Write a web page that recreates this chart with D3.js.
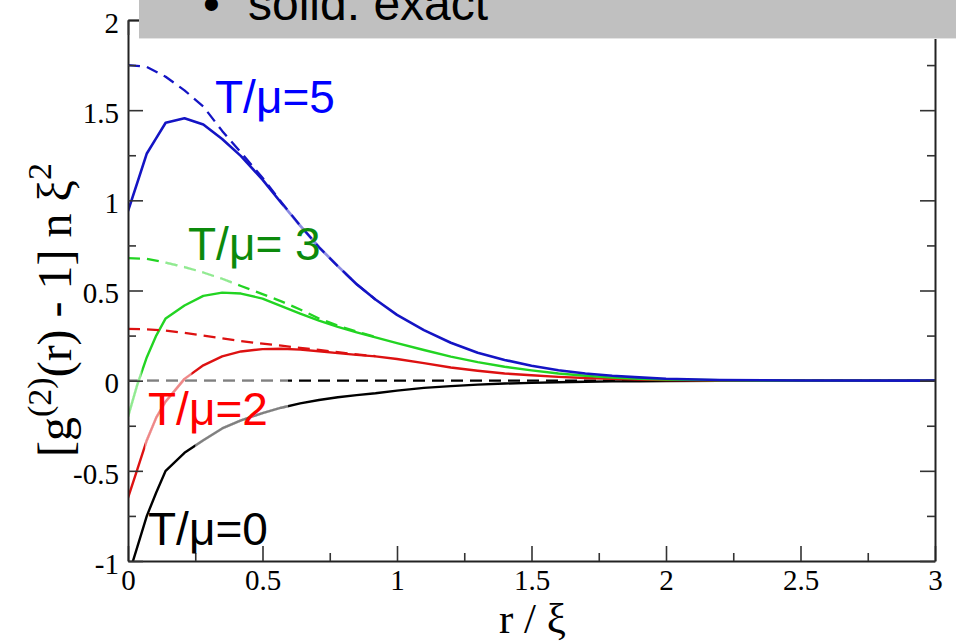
<!DOCTYPE html>
<html>
<head>
<meta charset="utf-8">
<script src="https://cdn.jsdelivr.net/npm/d3@7"></script>
<style>
  html, body { margin: 0; padding: 0; background: #fff; }
  svg { display: block; }
</style>
</head>
<body>
<svg id="chart" width="956" height="641"></svg>
<script>
// r / ξ sample grid for the exact (solid) curves
const rExact = [0, 0.035, 0.07, 0.105, 0.14, 0.21, 0.28, 0.35, 0.42, 0.5, 0.57, 0.64, 0.71, 0.78,
  0.85, 0.92, 1.0, 1.1, 1.2, 1.3, 1.4, 1.5, 1.6, 1.7, 1.8, 1.9, 2.0, 2.2, 2.5, 3.0];

const exactT5 = [0.94, 1.10, 1.26, 1.345, 1.43, 1.455, 1.42, 1.34, 1.245, 1.115, 0.985, 0.86, 0.74, 0.635,
  0.535, 0.45, 0.365, 0.28, 0.21, 0.155, 0.115, 0.083, 0.058, 0.04, 0.027, 0.018, 0.011, 0.004, 0.001, 0];
const exactT3 = [-0.2, -0.02, 0.13, 0.25, 0.345, 0.417, 0.47, 0.488, 0.483, 0.455, 0.413, 0.372, 0.333, 0.298,
  0.268, 0.24, 0.208, 0.17, 0.133, 0.103, 0.077, 0.057, 0.04, 0.027, 0.017, 0.01, 0.006, 0.002, 0, 0];
const exactT2 = [-0.65, -0.49, -0.33, -0.205, -0.115, 0.01, 0.085, 0.135, 0.162, 0.175, 0.177, 0.172, 0.163, 0.153,
  0.143, 0.135, 0.12, 0.097, 0.073, 0.055, 0.04, 0.03, 0.021, 0.015, 0.01, 0.006, 0.004, 0.001, 0, 0];
const exactT0 = [-1.09, -0.92, -0.75, -0.62, -0.5, -0.4, -0.33, -0.265, -0.22, -0.18, -0.15, -0.126, -0.107, -0.092,
  -0.08, -0.07, -0.055, -0.04, -0.03, -0.022, -0.016, -0.012, -0.009, -0.006, -0.004, -0.003, -0.002, -0.001, 0, 0];

// r / ξ sample grid for the approximate (dashed) curves
const rApprox = [0, 0.07, 0.14, 0.21, 0.28, 0.35, 0.42, 0.5, 0.57, 0.64, 0.71, 0.78, 0.85, 0.92];
const approxT5 = [1.75, 1.74, 1.685, 1.61, 1.52, 1.385, 1.265, 1.125, 0.99, 0.86, 0.74, 0.635, 0.535, 0.45];
const approxT3 = [0.68, 0.675, 0.655, 0.63, 0.6, 0.565, 0.525, 0.48, 0.44, 0.395, 0.345, 0.305, 0.272, 0.242];
const approxT2 = [0.287, 0.285, 0.278, 0.265, 0.25, 0.235, 0.22, 0.205, 0.194, 0.182, 0.17, 0.158, 0.146, 0.136];
const rZero = [0, 3];
const approxT0 = [0, 0];

const xTicks = [0, 0.5, 1, 1.5, 2, 2.5, 3];
const xTickLabels = ["0", "0.5", "1", "1.5", "2", "2.5", "3"];
const yTicks = [-1, -0.5, 0, 0.5, 1, 1.5, 2];
const yTickLabels = ["-1", "-0.5", "0", "0.5", "1", "1.5", "2"];
const minorX = [0.25, 0.75, 1.25, 1.75, 2.25, 2.75];
const minorY = [-0.75, -0.25, 0.25, 0.75, 1.25, 1.75];

const curveLabels = ["T/\u03bc=5", "T/\u03bc= 3", "T/\u03bc=2", "T/\u03bc=0"];
const headerText = "solid: exact";

// ---- drawing ----
const svg = d3.select("#chart");
const m = { left: 128, right: 935, top: 20, bottom: 561 };
const x = d3.scaleLinear().domain([0, 3]).range([m.left, m.right]);
const y = d3.scaleLinear().domain([-1, 2]).range([m.bottom, m.top]);

const serif = "'Liberation Serif','Times New Roman',Times,serif";
const sans = "'Liberation Sans',Arial,Helvetica,sans-serif";

svg.append("defs").append("clipPath").attr("id", "plotClip")
  .append("rect").attr("x", m.left).attr("y", m.top)
  .attr("width", m.right - m.left).attr("height", m.bottom - m.top);

const line = d3.line().x(d => x(d[0])).y(d => y(d[1]));
const zip = (rs, vs) => rs.map((r, i) => [r, vs[i]]);

const plot = svg.append("g").attr("clip-path", "url(#plotClip)");

// light patches along some curves
function fadeClip(id, r0, r1) {
  svg.select("defs").append("clipPath").attr("id", id)
    .append("rect").attr("x", x(r0)).attr("y", m.top)
    .attr("width", x(r1) - x(r0)).attr("height", m.bottom - m.top);
}

const series = [
  { rs: rZero, vs: approxT0, color: "#000000", w: 2.2, dash: "12,7", fade: [0, 0.595] },
  { rs: rExact, vs: exactT0, color: "#000000", w: 2.4, dash: null, fade: [0.25, 0.595] },
  { rs: rExact, vs: exactT2, color: "#dd1111", w: 2.4, dash: null, fade: [0.063, 0.236] },
  { rs: rExact, vs: exactT3, color: "#22d422", w: 2.4, dash: null, fade: [0, 0.05] },
  { rs: rExact, vs: exactT5, color: "#1414c4", w: 2.6, dash: null, fade: [0.575, 0.805] },
  { rs: rApprox, vs: approxT2, color: "#dd1111", w: 2.3, dash: "12,7", fade: null },
  { rs: rApprox, vs: approxT3, color: "#22d422", w: 2.3, dash: "12,7", fade: [0.137, 0.40] },
  { rs: rApprox, vs: approxT5, color: "#1414c4", w: 2.3, dash: "12,7", fade: null }
];

series.forEach((s, i) => {
  const d = zip(s.rs, s.vs);
  const p = plot.append("path").datum(d)
    .attr("d", line).attr("fill", "none")
    .attr("stroke", s.color).attr("stroke-width", s.w)
    .attr("stroke-linejoin", "round");
  if (s.dash) p.attr("stroke-dasharray", s.dash);
  if (s.fade) {
    const id = "fade" + i;
    fadeClip(id, s.fade[0], s.fade[1]);
    const f = plot.append("g").attr("clip-path", "url(#" + id + ")")
      .append("path").datum(d)
      .attr("d", line).attr("fill", "none")
      .attr("stroke", "#ffffff").attr("stroke-opacity", 0.5)
      .attr("stroke-width", s.w + 0.6);
    if (s.dash) f.attr("stroke-dasharray", s.dash);
  }
});

// ---- axes (ticks point inward) ----
function styleAxis(g) {
  g.select(".domain").attr("stroke", "#222").attr("stroke-width", 2);
  g.selectAll(".tick line").attr("stroke", "#333").attr("stroke-width", 1.6);
  g.selectAll("text").attr("font-family", serif).attr("font-size", 29).attr("fill", "#000");
}

const xAxis = svg.append("g").attr("transform", `translate(0,${m.bottom})`)
  .call(d3.axisBottom(x).tickValues(xTicks).tickFormat((d, i) => xTickLabels[i])
    .tickSizeInner(-15).tickSizeOuter(0).tickPadding(8));
styleAxis(xAxis);

const yAxis = svg.append("g").attr("transform", `translate(${m.left},0)`)
  .call(d3.axisLeft(y).tickValues(yTicks).tickFormat((d, i) => yTickLabels[i])
    .tickSizeInner(-15).tickSizeOuter(0).tickPadding(9));
styleAxis(yAxis);
yAxis.selectAll("text").attr("dy", "0.42em");

const xTop = svg.append("g").attr("transform", `translate(0,${m.top})`)
  .call(d3.axisTop(x).tickValues(xTicks).tickFormat("").tickSizeInner(-15).tickSizeOuter(0));
styleAxis(xTop);
const yRight = svg.append("g").attr("transform", `translate(${m.right},0)`)
  .call(d3.axisRight(y).tickValues(yTicks).tickFormat("").tickSizeInner(-15).tickSizeOuter(0));
styleAxis(yRight);

// minor ticks
[[d3.axisBottom(x), m.bottom, minorX, "x"], [d3.axisTop(x), m.top, minorX, "x"],
 [d3.axisLeft(y), m.left, minorY, "y"], [d3.axisRight(y), m.right, minorY, "y"]].forEach(([ax, pos, vals, dir]) => {
  const g = svg.append("g")
    .attr("transform", dir === "x" ? `translate(0,${pos})` : `translate(${pos},0)`)
    .call(ax.tickValues(vals).tickFormat("").tickSizeInner(-8).tickSizeOuter(0));
  g.select(".domain").remove();
  g.selectAll(".tick line").attr("stroke", "#333").attr("stroke-width", 1.6);
});

// ---- axis titles ----
svg.append("text")
  .attr("x", (m.left + m.right) / 2 + 1).attr("y", 633)
  .attr("text-anchor", "middle").attr("font-family", serif).attr("font-size", 43)
  .text("r / \u03be");

const yTitle = svg.append("text")
  .attr("transform", "translate(71,310) rotate(-90)")
  .attr("text-anchor", "middle").attr("font-family", serif).attr("font-size", 48);
yTitle.append("tspan").text("[g");
yTitle.append("tspan").attr("dy", -20).attr("font-size", 34).text("(2)");
yTitle.append("tspan").attr("dy", 20).text("(r) - 1] n \u03be");
yTitle.append("tspan").attr("dy", -20).attr("font-size", 34).text("2");

// ---- curve labels ----
const labelPos = [[215, 113, "#0000ff"], [188, 260, "#0c8a0c"], [148, 425, "#ff0000"], [148, 545, "#000000"]];
curveLabels.forEach((t, i) => {
  svg.append("text").attr("x", labelPos[i][0]).attr("y", labelPos[i][1])
    .attr("font-family", sans).attr("font-size", 46).attr("fill", labelPos[i][2])
    .text(t);
});

// ---- header bar ----
svg.append("rect").attr("x", 139).attr("y", 0).attr("width", 956 - 139).attr("height", 38)
  .attr("fill", "#c0c0c0");
svg.append("line").attr("x1", 139).attr("x2", 956).attr("y1", 38.5).attr("y2", 38.5)
  .attr("stroke", "#e4e4e4").attr("stroke-width", 1);
svg.append("text").attr("x", 203).attr("y", 20)
  .attr("font-family", sans).attr("font-size", 48).attr("fill", "#000")
  .text("\u2022");
svg.append("text").attr("x", 248).attr("y", 20)
  .attr("font-family", sans).attr("font-size", 48).attr("fill", "#000")
  .text(headerText);
</script>
</body>
</html>
